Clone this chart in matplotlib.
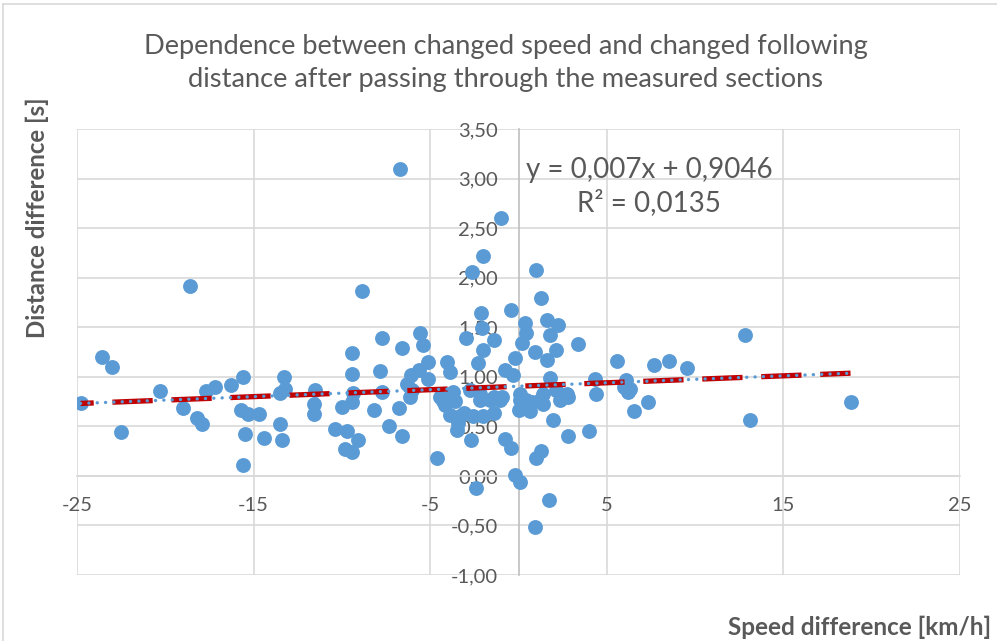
import matplotlib
matplotlib.use("Agg")
import matplotlib.pyplot as plt
from matplotlib.lines import Line2D
import numpy as np

# data
speed_diff = [-24.8, -23.6, -23.0, -22.5, -20.3, -19.0, -18.6, -18.2, -17.9, -17.7,
              -17.2, -16.3, -15.6, -15.7, -15.3, -14.7, -15.5, -15.6, -14.4, -13.3,
              -13.5, -13.2, -13.5, -13.4, -11.5, -11.6, -11.6, -10.4, -9.7, -9.1,
              -9.8, -9.4, -9.45, -9.45, -9.35, -10.0, -9.45, -8.85, -8.2, -7.75,
              -7.85, -7.75, -7.35, -6.7, -6.6, -6.75, -6.6, -6.1, -6.3, -6.05,
              -6.15, -5.65, -5.55, -5.4, -5.1, -5.1, -4.6, -4.05, -3.9, -4.45,
              -3.9, -3.7, -4.15, -4.3, -3.6, -3.9, -3.4, -3.3, -3.5, -2.7,
              -3.0, -2.1, -1.0, -2.0, -2.65, -0.4, -2.05, -1.4, -2.0, -2.3,
              -0.75, -0.3, -0.2, -2.75, -2.2, -1.4, -0.95, -3.1, -2.55, -2.0,
              -1.4, -1.6, -2.2, -1.05, -2.4, -0.75, -0.45, -0.2, 0.1, 0.95,
              1.7, 1.0, 1.3, 1.95, 2.8, 4.0, 0.1, 0.45, 1.2, 1.4,
              2.15, 2.75, 2.35, 0.1, 0.75, 0.0, 0.65, 1.4, 1.0, 1.3,
              0.35, 0.45, 0.2, 1.6, 2.25, 1.8, 0.95, 2.15, 1.6, 1.8,
              3.35, 5.55, 7.65, 8.55, 9.55, 12.8, 4.35, 4.4, 2.8, 6.1,
              6.0, 6.3, 6.2, 7.35, 6.55, 13.1, 18.8]
dist_diff = [0.74, 1.20, 1.10, 0.44, 0.86, 0.68, 1.92, 0.58, 0.52, 0.86,
             0.90, 0.92, 1.00, 0.66, 0.62, 0.62, 0.42, 0.11, 0.38, 1.00,
             0.84, 0.88, 0.52, 0.36, 0.87, 0.73, 0.62, 0.47, 0.45, 0.36,
             0.27, 0.24, 1.24, 1.03, 0.84, 0.70, 0.75, 1.87, 0.66, 1.39,
             1.06, 0.85, 0.50, 3.10, 1.29, 0.68, 0.40, 1.02, 0.93, 0.87,
             0.80, 1.07, 1.44, 1.32, 1.15, 0.98, 0.18, 1.15, 1.05, 0.80,
             0.80, 0.85, 0.72, 0.76, 0.76, 0.61, 0.53, 0.60, 0.46, 0.36,
             1.39, 1.64, 2.60, 2.22, 2.06, 1.67, 1.49, 1.37, 1.27, 1.14,
             1.07, 1.02, 1.19, 0.87, 0.83, 0.80, 0.80, 0.63, 0.60, 0.60,
             0.63, 0.77, 0.77, 0.77, -0.12, 0.37, 0.28, 0.01, -0.06, -0.52,
             -0.24, 0.18, 0.25, 0.56, 0.40, 0.45, 0.83, 0.77, 0.77, 0.83,
             0.87, 0.83, 0.77, 0.77, 0.75, 0.66, 0.65, 0.73, 2.08, 1.79,
             1.54, 1.44, 1.34, 1.57, 1.52, 1.42, 1.25, 1.27, 1.17, 0.99,
             1.33, 1.16, 1.12, 1.16, 1.09, 1.42, 0.98, 0.83, 0.80, 0.97,
             0.90, 0.88, 0.85, 0.75, 0.65, 0.56, 0.75]

# linear trendline as shown by the chart
trend_slope = 0.007
trend_intercept = 0.9046

x_ticks = [-25, -15, -5, 5, 15, 25]
x_labels = ["-25", "-15", "-5", "5", "15", "25"]
y_ticks = [-1.0, -0.5, 0.0, 0.5, 1.0, 1.5, 2.0, 2.5, 3.0, 3.5]
y_labels = ["-1,00", "-0,50", "0,00", "0,50", "1,00", "1,50", "2,00", "2,50", "3,00", "3,50"]

plt.rcParams['font.family'] = ['Lato', 'DejaVu Sans']
plt.rcParams['lines.scale_dashes'] = False
text_grey = '#595959'
grid_grey = '#D9D9D9'
dot_blue = '#5B9BD5'

fig = plt.figure(figsize=(9.97, 6.41), dpi=100)
ax = fig.add_axes([77/997, 66/641, 883/997, 446/641])

ax.set_xlim(-25, 25)
ax.set_ylim(-1, 3.5)
ax.set_xticks(x_ticks)
ax.set_xticklabels(x_labels)
ax.set_yticks(y_ticks)
ax.set_yticklabels(y_labels)
ax.grid(True, color=grid_grey, linewidth=1.2)
ax.set_axisbelow(True)

for s in ['top', 'right']:
    ax.spines[s].set_visible(False)
ax.spines['left'].set_position(('data', 0))
ax.spines['bottom'].set_position(('data', 0))
ax.spines['left'].set_color('#BFBFBF')
ax.spines['bottom'].set_color(grid_grey)
ax.spines['left'].set_linewidth(1.2)
ax.spines['bottom'].set_linewidth(1.2)
ax.tick_params(axis='both', length=0, labelsize=14.5, labelcolor=text_grey)
ax.tick_params(axis='y', pad=15)
ax.tick_params(axis='x', pad=15)

ax.scatter(speed_diff, dist_diff, s=115, color=dot_blue, zorder=3, linewidths=0)

tx = np.array([min(speed_diff), max(speed_diff)])
ty = trend_slope * tx + trend_intercept
ax.plot(tx, ty, color='#C00000', linewidth=3.8, linestyle=(19.5, (29, 13.5)),
        dash_capstyle='butt', zorder=4)
ax.plot(tx, ty, color=dot_blue, linewidth=2.4, linestyle=(0, (0.1, 5.9)),
        dash_capstyle='round', zorder=5)

ax.text(7.4, 2.92, "y = 0,007x + 0,9046\nR² = 0,0135", ha='center', va='center',
        fontsize=20, color=text_grey, linespacing=1.3, zorder=6)

fig.text(506/997, 1 - 63/641, "Dependence between changed speed and changed following\n"
         "distance after passing through the measured sections",
         ha='center', va='center', fontsize=19.6, color=text_grey, linespacing=1.4)
fig.text(37/997, 1 - 218/641, "Distance difference [s]", rotation=90, ha='center', va='center',
         fontsize=17.3, fontweight='bold', color=text_grey)
fig.text(991/997, 1 - 627/641, "Speed difference [km/h]", ha='right', va='center',
         fontsize=17.5, fontweight='bold', color=text_grey)

# chart area border
fig.add_artist(Line2D([3/997, 3/997], [0, 1 - 4/641], color=grid_grey, linewidth=1.2))
fig.add_artist(Line2D([3/997, 1], [1 - 4/641, 1 - 4/641], color=grid_grey, linewidth=1.2))

fig.savefig("out.png", dpi=100)
